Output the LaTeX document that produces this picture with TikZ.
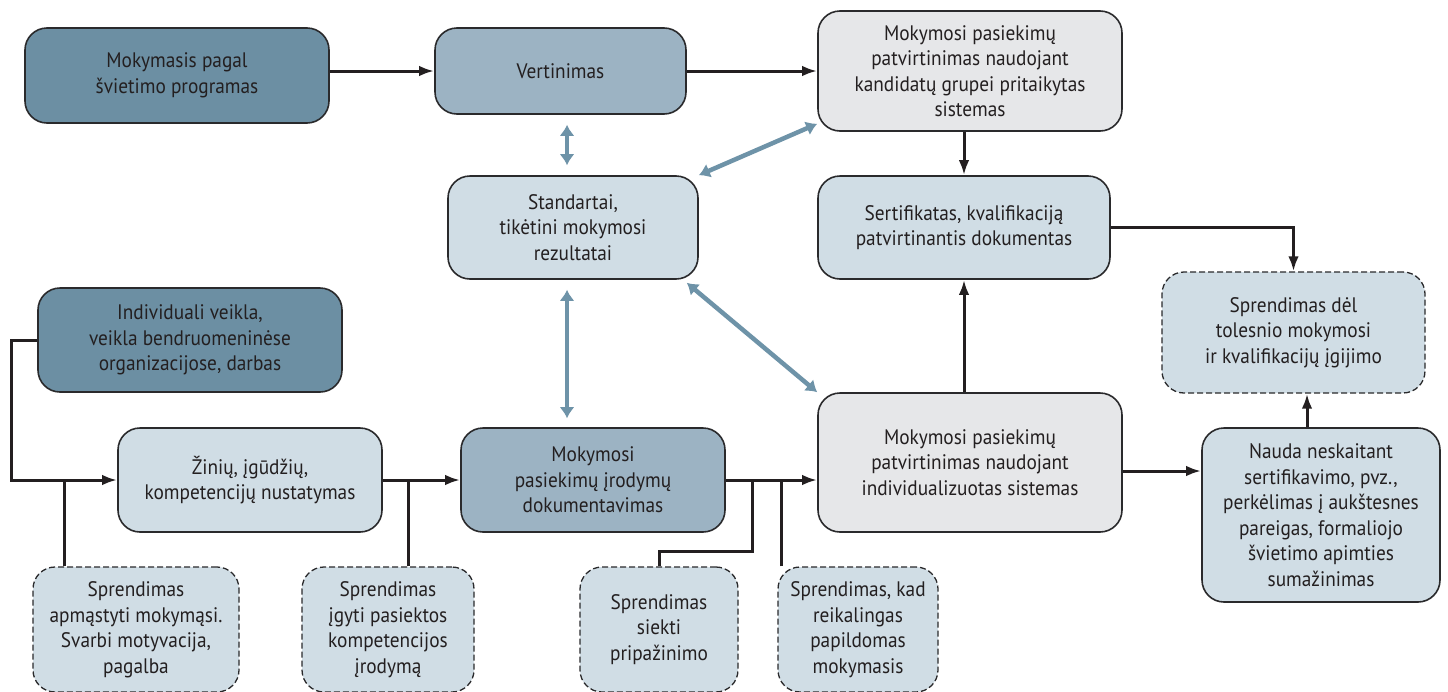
\documentclass[tikz,border=0pt]{standalone}
\usepackage{fontspec}
\setmainfont{PT Sans}[FakeStretch=0.92]
\usepackage{xcolor}
\usetikzlibrary{arrows.meta}

\definecolor{darkbox}{HTML}{6C8FA3}
\definecolor{midbox}{HTML}{9CB3C3}
\definecolor{lightbox}{HTML}{D0DDE5}
\definecolor{greybox}{HTML}{E6E7E9}
\definecolor{linkblue}{HTML}{6E93A8}
\definecolor{inkcol}{HTML}{231F20}
\definecolor{edgecol}{HTML}{2A2A2C}

\begin{document}
\begin{tikzpicture}[x=1pt, y=-1pt, >=Latex, font=\fontsize{21}{25.5}\selectfont]

			% Styles
			\tikzstyle{block} = [rectangle, draw=edgecol, line width=1.6pt, rounded corners=22pt, align=center, text=inkcol, inner sep=0pt]
			\tikzstyle{choice} = [block, fill=lightbox, line width=1.3pt, dash pattern=on 6pt off 3pt]
			\tikzstyle{arrow} = [-{Latex[length=15pt,width=10.5pt]}, line width=3pt, draw=inkcol]
			\tikzstyle{joint} = [line width=3pt, draw=inkcol]
			\tikzstyle{link} = [{Latex[length=11pt,width=15pt]}-{Latex[length=11pt,width=15pt]}, line width=4.5pt, draw=linkblue]

			\useasboundingbox (0,0) rectangle (1448,691);

			% Nodes
			\node[block, fill=darkbox, minimum width=304pt, minimum height=95pt] (prog) at (177,75.5) {Mokymasis pagal\\švietimo programas};
			\node[block, fill=midbox, minimum width=251pt, minimum height=86pt] (vert) at (560.5,71) {Vertinimas};
			\node[block, fill=greybox, minimum width=304pt, minimum height=120pt] (grp) at (970,71) {Mokymosi pasiekimų\\patvirtinimas naudojant\\kandidatų grupei pritaikytas\\sistemas};
			\node[block, fill=lightbox, minimum width=250pt, minimum height=103pt] (std) at (573,227.5) {Standartai,\\tikėtini mokymosi\\rezultatai};
			\node[block, fill=lightbox, minimum width=292pt, minimum height=103pt] (cert) at (964,227.5) {Sertifikatas, kvalifikaciją\\patvirtinantis dokumentas};
			\node[choice, minimum width=263pt, minimum height=121pt] (toles) at (1293.5,332.5) {Sprendimas dėl\\tolesnio mokymosi\\ir kvalifikacijų įgijimo};
			\node[block, fill=darkbox, minimum width=304pt, minimum height=104pt] (indiv) at (190,340) {Individuali veikla,\\veikla bendruomeninėse\\organizacijose, darbas};
			\node[block, fill=lightbox, minimum width=264pt, minimum height=104pt] (nust) at (250,480) {Žinių, įgūdžių,\\kompetencijų nustatymas};
			\node[block, fill=midbox, minimum width=264pt, minimum height=104pt] (dok) at (593,480) {Mokymosi\\pasiekimų įrodymų\\dokumentavimas};
			\node[block, fill=greybox, minimum width=304pt, minimum height=139pt] (ind) at (970,462.5) {Mokymosi pasiekimų\\patvirtinimas naudojant\\individualizuotas sistemas};
			\node[block, fill=lightbox, minimum width=238pt, minimum height=174pt] (nauda) at (1321,515) {Nauda neskaitant\\sertifikavimo, pvz.,\\perkėlimas į aukštesnes\\pareigas,  formaliojo\\švietimo apimties\\sumažinimas};
			\node[choice, minimum width=206pt, minimum height=125pt] (apm) at (136,629.5) {Sprendimas\\apmąstyti mokymąsi.\\Svarbi motyvacija,\\pagalba};
			\node[choice, minimum width=172pt, minimum height=125pt] (igyti) at (388,629.5) {Sprendimas\\įgyti pasiektos\\kompetencijos\\įrodymą};
			\node[choice, minimum width=158pt, minimum height=125pt] (siekti) at (659,629.5) {Sprendimas\\siekti\\pripažinimo};
			\node[choice, minimum width=160pt, minimum height=125pt] (papild) at (858,629.5) {Sprendimas, kad\\reikalingas\\papildomas\\mokymasis};

			% Arrows (main flow)
			\draw[arrow] (prog.east |- vert.west) -- (vert.west);
			\draw[arrow] (vert.east) -- (vert.east -| grp.west);
			\draw[arrow] (cert.north |- grp.south) -- (cert.north);
			\draw[arrow] (cert.south |- ind.north) -- (cert.south);
			\draw[arrow] (cert.east) -| (toles.north);
			\draw[arrow] (indiv.west) -- ++(-26,0) |- (nust.west);
			\draw[arrow] (nust) -- (dok);
			\draw[arrow] (dok.east) -- (dok.east -| ind.west);
			\draw[arrow] ([yshift=-8.5pt]ind.east) -- ([yshift=-8.5pt]ind.east -| nauda.west);
			\draw[arrow] ([xshift=-14pt]nauda.north) -- ([xshift=-14pt]nauda.north |- toles.south);

			% Decisions joining the flow
			\draw[joint] ([xshift=-72pt]apm.north) -- ([xshift=-72pt]apm.north |- nust.west);
			\draw[joint] ([xshift=20pt]igyti.north) -- ([xshift=20pt]igyti.north |- nust.east);
			\draw[joint] (siekti.north) -- ++(0,-15) -| ([xshift=27pt]dok.east);
			\draw[joint] ([xshift=-77pt]papild.north) -- ([xshift=-77pt]papild.north |- dok.east);

			% Links to the standards
			\draw[link, shorten <=10pt, shorten >=10pt] ([xshift=6.5pt]vert.south) -- ([xshift=-6pt]std.north);
			\draw[link, shorten <=10pt, shorten >=9pt] ([xshift=-6pt]std.south) -- ([xshift=-26pt]dok.north);
			\draw[link] (std.north east) -- ([yshift=8pt]grp.south west);
			\draw[link] ([shift={(-12pt,-3pt)}]std.south east) -- (ind.north west);

		\end{tikzpicture}
\end{document}
